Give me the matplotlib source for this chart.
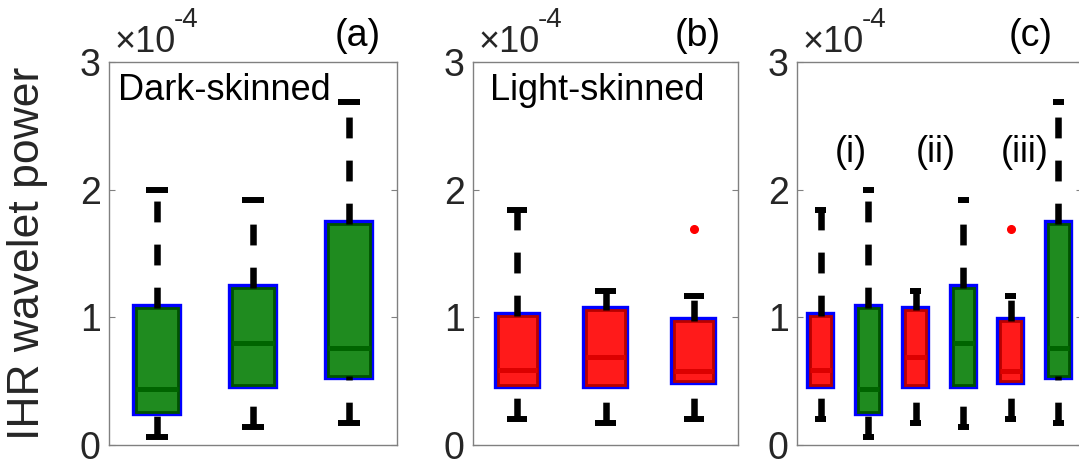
import matplotlib
matplotlib.use('Agg')
import matplotlib.pyplot as plt
from matplotlib import patheffects as pe

plt.rcParams['font.family'] = ['Liberation Sans', 'DejaVu Sans']
plt.rcParams['lines.scale_dashes'] = False

# ---- data (units of 1e-4) ----
dark_whislo = [0.06, 0.14, 0.17]
dark_q1 = [0.26, 0.47, 0.54]
dark_med = [0.44, 0.80, 0.76]
dark_q3 = [1.07, 1.23, 1.73]
dark_whishi = [2.00, 1.92, 2.69]
dark_fliers = [[], [], []]

light_whislo = [0.20, 0.17, 0.20]
light_q1 = [0.47, 0.47, 0.505]
light_med = [0.59, 0.69, 0.58]
light_q3 = [1.01, 1.06, 0.975]
light_whishi = [1.84, 1.21, 1.17]
light_fliers = [[], [], [1.69]]

yticks = [0, 1, 2, 3]
panel_labels = ['(a)', '(b)', '(c)']
group_labels = ['(i)', '(ii)', '(iii)']
ylabel = 'IHR wavelet power'

GREEN, GREEN_EDGE, GREEN_MED = '#1f8b1f', '#005200', '#006400'
RED, RED_EDGE, RED_MED = '#ff1a1a', '#b80000', '#dc0000'


def make_stats(lo, q1, med, q3, hi, fl):
    return [dict(whislo=a, q1=b, med=c, q3=d, whishi=e, fliers=f)
            for a, b, c, d, e, f in zip(lo, q1, med, q3, hi, fl)]


dark_stats = make_stats(dark_whislo, dark_q1, dark_med, dark_q3, dark_whishi, dark_fliers)
light_stats = make_stats(light_whislo, light_q1, light_med, light_q3, light_whishi, light_fliers)

W, H = 1079, 463
fig = plt.figure(figsize=(W / 100, H / 100), dpi=100)


def axes_px(l, r, t, b):
    return fig.add_axes([l / W, (H - b) / H, (r - l) / W, (b - t) / H])


def draw(ax, stats, fills, edges, meds):
    n = len(stats)
    bp = ax.bxp(stats, positions=list(range(1, n + 1)), widths=0.44, capwidths=0.23,
                patch_artist=True, showfliers=True,
                boxprops=dict(linewidth=2.0),
                whiskerprops=dict(color='k', linewidth=4.7, linestyle=(0, (15, 16)),
                                  solid_capstyle='butt', dash_capstyle='butt'),
                capprops=dict(color='k', linewidth=4.3, solid_capstyle='butt'),
                medianprops=dict(linewidth=3.6, solid_capstyle='butt'),
                flierprops=dict(marker='o', markerfacecolor='red', markeredgecolor='red',
                                markersize=5.5, linestyle='none'))
    # lower whiskers are drawn from the cap upwards (dash pattern starts at the cap)
    for w in bp['whiskers'][0::2]:
        w.set_ydata(list(w.get_ydata())[::-1])
    for patch, fc, ec in zip(bp['boxes'], fills, edges):
        patch.set_facecolor(fc)
        patch.set_edgecolor(ec)
        patch.set_path_effects([pe.Stroke(linewidth=6.0, foreground='#0000ff'), pe.Normal()])
    for m, mc in zip(bp['medians'], meds):
        m.set_color(mc)
    ax.set_xlim(0.5, n + 0.5)
    ax.set_ylim(0, 3)
    ax.set_yticks(yticks)
    ax.set_xticks([])
    for s in ax.spines.values():
        s.set_color('#808080')
        s.set_linewidth(1.0)
    ax.tick_params(axis='y', direction='in', length=4, width=0.8, color='#808080',
                   right=True, labelsize=27, labelcolor='#262626', pad=6)
    ax.annotate('\u00d710', xy=(0, 1), xycoords='axes fraction', xytext=(4.0, 7.2),
                textcoords='offset points', ha='left', va='baseline', fontsize=26,
                color='#262626')
    ax.annotate('-4', xy=(0, 1), xycoords='axes fraction', xytext=(46.5, 25.5),
                textcoords='offset points', ha='left', va='baseline', fontsize=20,
                color='#262626')


axA = axes_px(109, 397, 62, 445)
axB = axes_px(473, 738, 62, 445)
axC = axes_px(797, 1082, 62, 445)

draw(axA, dark_stats, [GREEN] * 3, [GREEN_EDGE] * 3, [GREEN_MED] * 3)
draw(axB, light_stats, [RED] * 3, [RED_EDGE] * 3, [RED_MED] * 3)

comb_stats, comb_f, comb_e, comb_m = [], [], [], []
for ls, ds in zip(light_stats, dark_stats):
    comb_stats += [ls, ds]
    comb_f += [RED, GREEN]
    comb_e += [RED_EDGE, GREEN_EDGE]
    comb_m += [RED_MED, GREEN_MED]
draw(axC, comb_stats, comb_f, comb_e, comb_m)

axA.text(0.59, 2.70, 'Dark-skinned', fontsize=26, ha='left', va='baseline')
axB.text(0.69, 2.70, 'Light-skinned', fontsize=26, ha='left', va='baseline')
for lab, x in zip(group_labels, [1.63, 3.42, 5.30]):
    axC.text(x, 2.29, lab, fontsize=26, ha='center', va='center')

for ax, lab, fx in zip([axA, axB, axC], panel_labels, [0.865, 0.849, 0.818]):
    ax.annotate(lab, xy=(fx, 1), xycoords='axes fraction', xytext=(0, 11.5),
                textcoords='offset points', ha='center', va='baseline', fontsize=27)

fig.text(28 / W, 1 - 253 / H, ylabel, rotation=90, ha='center', va='center',
         fontsize=32, color='#262626')

fig.savefig('out.png', dpi=100)
